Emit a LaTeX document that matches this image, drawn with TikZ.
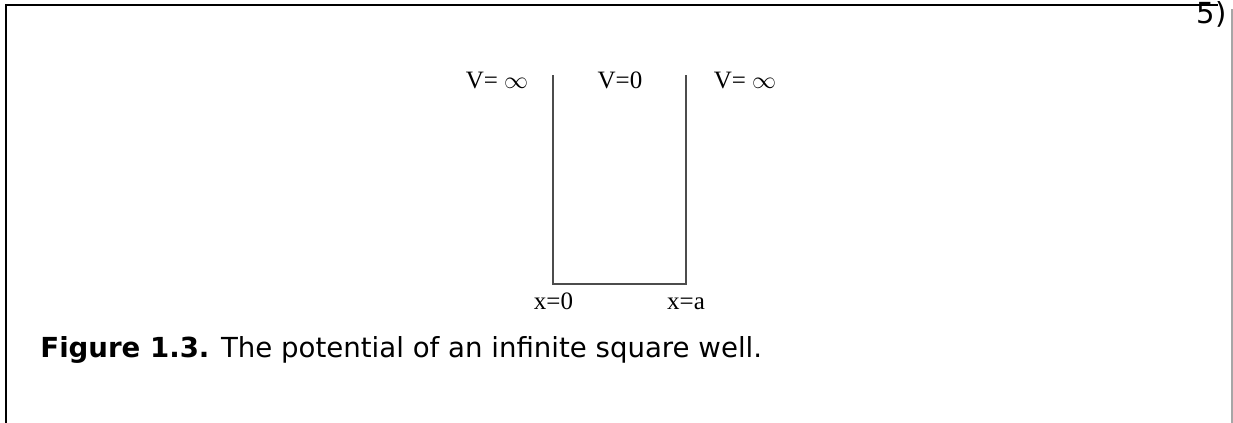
\documentclass[tikz,border=0pt]{standalone}
\usepackage{fontspec}
\setmainfont{DejaVu Sans}
\newfontfamily\wellfont{Liberation Serif}
\usetikzlibrary{positioning}

\begin{document}
\begin{tikzpicture}[
  x=0.5pt, y=-0.5pt,
  frame/.style={line width=1pt, draw=black},
  wall/.style={line width=0.75pt, draw=black!70},
  lbl/.style={font=\wellfont\fontsize{12.5}{14}\selectfont, inner sep=0pt, anchor=base},
  caption/.style={font=\fontsize{13.8}{16}\selectfont, inner sep=0pt, anchor=base west}
]
\useasboundingbox (0,0) rectangle (1233,423);

% Frame
\draw[frame] (6,423) -- (6,5) -- (1218,5);
\draw[draw=black!35, line width=0.6pt] (1232,9) -- (1232,423);
\node[font=\fontsize{14.5}{16}\selectfont, inner sep=0pt, anchor=base east] (page) at (1227,24) {5)};

% Well
\coordinate (lt) at (553,75);
\coordinate (lb) at (553,284);
\coordinate (rb) at (686,284);
\coordinate (rt) at (686,75);
\draw[wall] (lt) -- (lb) -- (rb) -- (rt);

% Potential labels
\node[lbl] (vleft)  at (497,88) {V= $\infty$};
\node[lbl] (vmid)   at (620,88) {V=0};
\node[lbl] (vright) at (745,88) {V= $\infty$};

% Position labels
\node[lbl] (xzero) at (553.5,309) {x=0};
\node[lbl] (xa)    at (686,309)   {x=a};

% Caption
\node[caption] (cap) at (40,357) {\textbf{Figure 1.3.} The potential of an infinite square well.};
\end{tikzpicture}
\end{document}
